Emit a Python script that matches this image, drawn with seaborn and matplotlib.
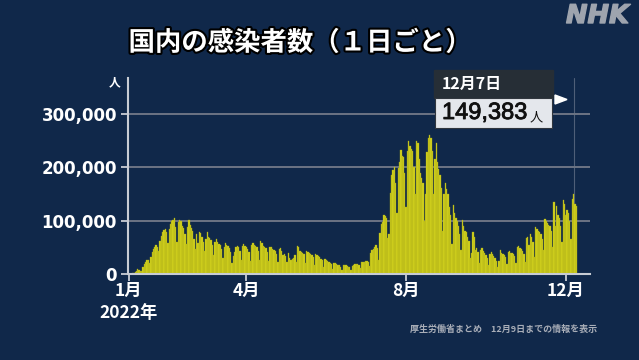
import numpy as np
import pandas as pd
import seaborn as sns
import matplotlib.pyplot as plt
import matplotlib.patheffects as pe
from matplotlib.patches import Rectangle, Polygon

sns.set_theme(style="white")
plt.rcParams['font.family'] = ['DejaVu Sans', 'Noto Sans CJK JP']

# 国内の新規感染者数 (1日ごと), 2022-01-01 ~ 2022-12-09, 単位: 千人
# 1行目は1/1(土)・1/2(日)、以降は月曜始まりの1週間ずつ
cases_k = [
    0.5, 0.6,
    0.8, 1.3, 2.6, 4.5, 6.2, 8.5, 8.2,
    6.4, 6.4, 13.2, 18.9, 22.0, 25.7, 25.6,
    20.0, 32.2, 41.5, 46.2, 49.9, 54.6, 50.0,
    43.0, 62.6, 71.6, 78.9, 81.8, 84.9, 78.0,
    59.0, 85.0, 94.0, 100.0, 102.0, 105.0, 89.0,
    60.0, 97.0, 101.0, 100.0, 90.0, 86.0, 75.0,
    57.0, 89.0, 102.0, 91.0, 87.0, 80.0, 66.0,
    47.0, 75.0, 58.0, 78.0, 76.0, 70.0, 60.0,
    43.0, 65.0, 78.0, 70.0, 68.0, 63.0, 54.0,
    36.0, 60.0, 65.0, 60.0, 56.0, 54.0, 47.0,
    30.0, 50.0, 58.0, 55.0, 52.0, 49.0, 42.0,
    20.0, 33.0, 42.0, 50.0, 52.0, 50.0, 43.0,
    27.0, 52.0, 56.0, 52.0, 50.0, 47.0, 42.0,
    25.0, 54.0, 58.0, 54.0, 52.0, 50.0, 44.0,
    27.0, 61.0, 58.0, 52.0, 50.0, 48.0, 41.0,
    25.0, 50.0, 51.0, 47.0, 45.0, 43.0, 37.0,
    22.0, 47.0, 48.0, 44.0, 36.0, 38.0, 33.0,
    23.0, 40.0, 30.0, 27.0, 28.0, 30.0, 36.0,
    23.0, 52.0, 50.0, 44.0, 42.0, 40.0, 37.0,
    20.0, 44.0, 42.0, 40.0, 38.0, 36.0, 31.0,
    17.0, 38.0, 36.0, 33.0, 32.0, 29.0, 26.0,
    14.0, 28.0, 26.0, 24.0, 23.0, 21.0, 18.0,
    10.0, 21.0, 20.0, 18.0, 17.0, 16.0, 14.0,
    8.0, 17.0, 17.0, 16.0, 15.0, 14.0, 13.0,
    8.0, 15.0, 17.0, 18.0, 19.0, 18.0, 17.0,
    11.0, 23.0, 23.0, 23.0, 24.0, 24.0, 23.0,
    15.0, 39.0, 45.0, 47.0, 51.0, 55.0, 48.0,
    27.0, 76.0, 94.0, 97.0, 110.0, 108.0, 105.0,
    67.0, 75.0, 152.0, 186.0, 195.0, 200.0, 170.0,
    115.0, 198.0, 210.0, 233.0, 222.0, 220.0, 190.0,
    125.0, 230.0, 249.0, 240.0, 235.0, 230.0, 200.0,
    150.0, 250.0, 245.0, 215.0, 190.0, 180.0, 170.0,
    100.0, 150.0, 228.0, 255.0, 261.0, 255.0, 231.0,
    150.0, 215.0, 245.0, 210.0, 196.0, 185.0, 162.0,
    80.0, 150.0, 170.0, 160.0, 150.0, 125.0, 110.0,
    57.0, 130.0, 115.0, 105.0, 100.0, 90.0, 75.0,
    45.0, 102.0, 90.0, 80.0, 78.0, 70.0, 62.0,
    30.0, 40.0, 78.0, 70.0, 45.0, 48.0, 42.0,
    20.0, 45.0, 48.0, 43.0, 40.0, 36.0, 30.0,
    16.0, 37.0, 42.0, 38.0, 34.0, 30.0, 25.0,
    14.0, 24.0, 45.0, 40.0, 38.0, 36.0, 32.0,
    18.0, 42.0, 44.0, 40.0, 39.0, 38.0, 34.0,
    20.0, 50.0, 52.0, 48.0, 46.0, 44.0, 38.0,
    23.0, 68.0, 70.0, 55.0, 75.0, 70.0, 60.0,
    32.0, 88.0, 85.0, 80.0, 78.0, 75.0, 65.0,
    45.0, 103.0, 100.0, 95.0, 92.0, 90.0, 80.0,
    50.0, 135.0, 90.0, 127.0, 110.0, 105.0, 90.0,
    60.0, 138.0, 132.0, 111.0, 120.0, 115.0, 100.0,
    65.0, 140.0, 149.383, 132.0, 128.0,
]

dates = pd.date_range("2022-01-01", "2022-12-09", freq="D")
assert len(dates) == len(cases_k)

month_ticks = ["2022-01-01", "2022-04-01", "2022-08-01", "2022-12-01"]
month_labels = ["1月", "4月", "8月", "12月"]
y_ticks = [0, 100000, 200000, 300000]
highlight_date = "2022-12-07"

df = pd.DataFrame({"date": dates, "cases": np.array(cases_k) * 1000})
df["day"] = (df["date"] - dates[0]).dt.days

bg = "#10284a"
bar_color = "#d4d41e"
axis_color = "#c8ccd4"

fig = plt.figure(figsize=(6.39, 3.6), dpi=100, facecolor=bg)
ax = fig.add_axes([128 / 639, 86 / 360, 462 / 639, 196 / 360])
ax.set_facecolor(bg)

hl_day = (pd.Timestamp(highlight_date) - dates[0]).days
ax.axvline(hl_day, color="#4f5f78", lw=0.8, zorder=0.5)

sns.barplot(data=df, x="day", y="cases", native_scale=True, color=bar_color,
            saturation=1, width=1.0, errorbar=None, linewidth=0.25,
            edgecolor="#a8a816", ax=ax)

ax.set_xlim(-0.5, 352.5)
ax.set_ylim(0, 367500)
ax.set_xlabel("")
ax.set_ylabel("")

ax.set_yticks(y_ticks)
ax.set_yticklabels([f"{v:,}" for v in y_ticks], fontsize=12, fontweight="bold",
                   color="white", family="DejaVu Sans")
ax.yaxis.grid(True, color="#6c7484", lw=1.4)
ax.set_axisbelow(True)

tick_days = [(pd.Timestamp(d) - dates[0]).days for d in month_ticks]
ax.set_xticks(tick_days)
ax.set_xticklabels(month_labels, fontsize=12.5, fontweight="bold", color="white",
                   family="Noto Sans CJK JP")

for side in ["top", "right"]:
    ax.spines[side].set_visible(False)
for side in ["left", "bottom"]:
    ax.spines[side].set_color(axis_color)
    ax.spines[side].set_linewidth(1.5)
ax.tick_params(axis="y", length=5, width=1.3, color=axis_color, pad=3, left=True)
ax.tick_params(axis="x", length=5, width=1.3, color=axis_color, pad=1, bottom=True)

# 単位・年
fig.text(115 / 639, 1 - 83 / 360, "人", ha="center", va="center", fontsize=8.5,
         color="white", family="Noto Sans CJK JP", fontweight="bold")
fig.text(129 / 639, 1 - 313 / 360, "2022年", ha="center", va="center", fontsize=12.5,
         color="white", family="Noto Sans CJK JP", fontweight="bold")

# タイトル
fig.text(300 / 639, 1 - 43 / 360, "国内の感染者数（１日ごと）", ha="center", va="center",
         fontsize=19, fontweight="bold", color="white", family="Noto Sans CJK JP",
         path_effects=[pe.withStroke(linewidth=3, foreground="black")])

fig.text(629 / 639, 1 - 16 / 360, "NHK", ha="right", va="center", fontsize=18.5,
         fontweight="bold", style="italic", color="#9ea4ae", family="DejaVu Sans",
         path_effects=[pe.withStroke(linewidth=1, foreground="#9ea4ae")])

fig.text(597 / 639, 1 - 329 / 360, "厚生労働省まとめ　12月9日までの情報を表示", ha="right",
         va="center", fontsize=6.5, fontweight="bold", color="#a9aeb8",
         family="Noto Sans CJK JP")

# ツールチップ
hl_value = int(round(df.loc[df["day"] == hl_day, "cases"].iloc[0]))
hl_label = f"{pd.Timestamp(highlight_date).month}月{pd.Timestamp(highlight_date).day}日"
fig.patches.append(Rectangle((434 / 639, 1 - 98 / 360), 119 / 639, 28 / 360,
                             transform=fig.transFigure, color="#262e36", zorder=5))
fig.patches.append(Rectangle((435 / 639, 1 - 128 / 360), 117 / 639, 30 / 360,
                             transform=fig.transFigure, facecolor="#e4e7ec",
                             edgecolor="#30363e", lw=0.8, zorder=6))
fig.patches.append(Polygon([(555 / 639, 1 - 95 / 360), (555 / 639, 1 - 104 / 360),
                            (567 / 639, 1 - 99.5 / 360)], closed=True,
                           transform=fig.transFigure, color="white", zorder=6))
fig.text(442 / 639, 1 - 84 / 360, hl_label, ha="left", va="center", fontsize=11.5,
         color="white", family="Noto Sans CJK JP", fontweight="bold", zorder=7)
fig.text(442 / 639, 1 - 113 / 360, f"{hl_value:,}", ha="left", va="center",
         fontsize=17, color="#111111", family="Liberation Sans", zorder=7,
         path_effects=[pe.withStroke(linewidth=0.6, foreground="#111111")])
fig.text(530 / 639, 1 - 118 / 360, "人", ha="left", va="center", fontsize=9.5,
         color="#111111", family="Noto Sans CJK JP", zorder=7)

fig.savefig("out.png", dpi=100, facecolor=bg)
